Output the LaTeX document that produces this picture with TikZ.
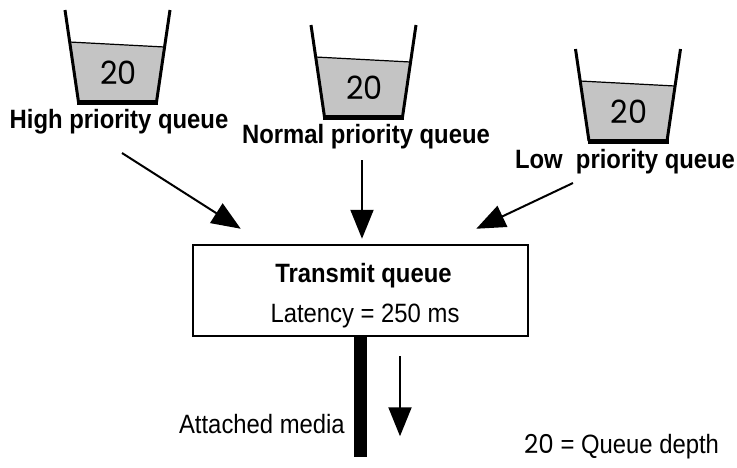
\documentclass[tikz,border=0pt]{standalone}
\usepackage{fontspec}
\setmainfont{Liberation Sans}[FakeStretch=0.9]
\newfontfamily\numfont{Poppins}[FakeStretch=0.95]
\usetikzlibrary{arrows.meta}

\begin{document}
\begin{tikzpicture}[x=1pt,y=-1pt,>={Triangle[length=29pt,width=23pt]},
  queue label/.style={font=\fontsize{26.5}{30}\selectfont\bfseries,anchor=base,inner sep=0pt},
  plain label/.style={font=\fontsize{26.5}{30}\selectfont,inner sep=0pt},
  feed/.style={->,line width=2pt},
  tx box/.style={draw,line width=2.5pt,minimum width=335pt,minimum height=91pt,inner sep=0pt},
  media line/.style={line width=13pt},
  bucket/.pic={
    % contents, then the walls and the heavier floor
    \fill[black!23] (-48,32) -- (47,37) -- (39,92) -- (-39,92) -- cycle;
    \draw[line width=1.2pt] (-48,32) -- (47,37);
    \draw[line width=3pt] (-52.5,0) -- (-39,92);
    \draw[line width=3pt] (52.5,0) -- (39,92);
    \draw[line width=5pt] (-40.5,92) -- (40.5,92);
    \node[font=\numfont\fontsize{32}{32}\selectfont,inner sep=0pt] (-depth) at (1,63) {20};
  }]

  \useasboundingbox (0,0) rectangle (737,467);

  \pic (hi) at (117.5,10) {bucket};
  \pic (mid) at (363.5,25) {bucket};
  \pic (lo) at (628,49) {bucket};

  \node[queue label] (high) at (119,128) {High priority queue};
  \node[queue label] (normal) at (366,143) {Normal priority queue};
  \node[queue label] (low) at (625,168) {Low\ \ priority queue};

  \node[tx box] (txq) at (360.5,290.5) {};
  \node[queue label] (txname) at ([xshift=3pt,yshift=8.5pt]txq.center) {Transmit queue};
  \node[plain label,anchor=base] (latency) at ([xshift=4.5pt,yshift=-31.5pt]txq.center) {Latency = 250 ms};

  \draw[feed] (high.base) ++(3,25) -- ([shift={(49,-15)}]txq.north west);
  \draw[feed] (normal.base) ++(-4,17) -- ([shift={(1.5,-5)}]txq.north);
  \draw[feed] (low.base) ++(-52,15) -- ([shift={(-53,-15)}]txq.north east);

  % line out to the media, and the flow along it
  \coordinate (media end) at ([yshift=-120pt]txq.south);
  \draw[media line] (txq.south) -- (media end);
  \coordinate (flow top) at ([shift={(39.5,19)}]txq.south);
  \coordinate (flow tip) at ([shift={(39.5,99)}]txq.south);
  \draw[feed] (flow top) -- (flow tip);

  \node[plain label,anchor=base east] (media) at (345,433) {Attached media};
  \node[plain label,anchor=base west] (legend) at (524,453) {{\numfont\fontsize{26}{26}\selectfont 20} = Queue depth};

\end{tikzpicture}
\end{document}
